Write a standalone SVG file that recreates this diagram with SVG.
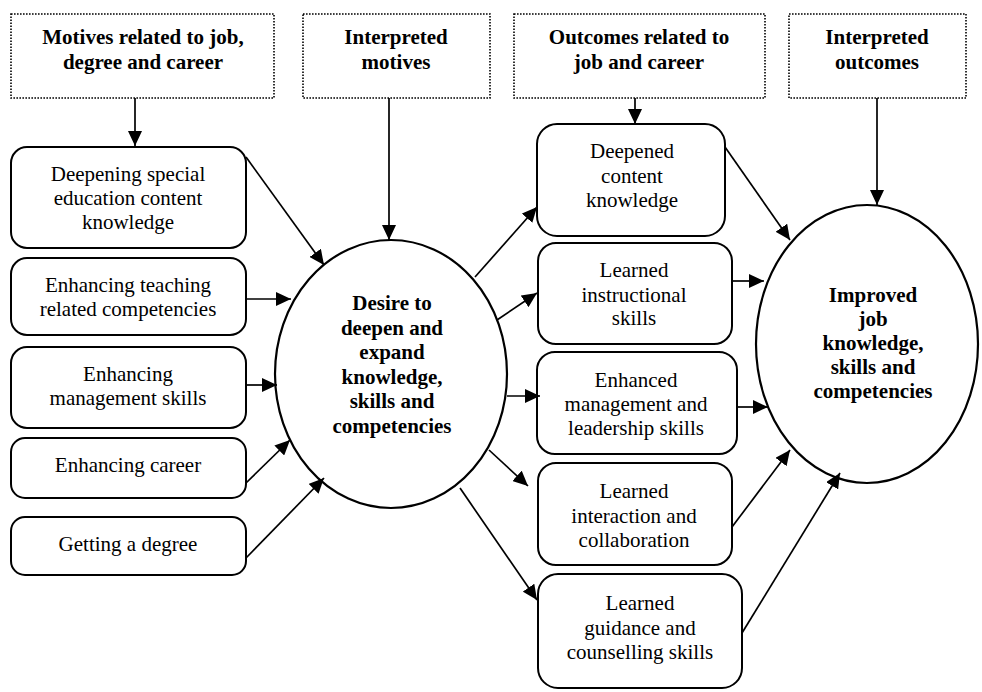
<svg xmlns="http://www.w3.org/2000/svg" width="982" height="692" viewBox="0 0 982 692">
  <defs>
    <marker id="arrow" markerUnits="userSpaceOnUse" markerWidth="15" markerHeight="14" refX="15" refY="7" orient="auto">
      <path d="M0,0 L15,7 L0,14 z" fill="#000"/>
    </marker>
  </defs>
  <style>
    .hdr { fill: #fff; stroke: #000; stroke-width: 1.6; stroke-dasharray: 1.6 1.4; }
    .box { fill: #fff; stroke: #000; stroke-width: 2; }
    .ell { fill: #fff; stroke: #000; stroke-width: 2.2; }
    text { font-family: 'Liberation Serif', 'DejaVu Serif', serif; font-size: 21px; fill: #000; text-anchor: middle; }
    .b { font-weight: bold; }
    .c { stroke: #000; stroke-width: 1.7; fill: none; marker-end: url(#arrow); }
  </style>
  <rect width="982" height="692" fill="#fff"/>

  <!-- header boxes -->
  <g id="hdr-motives">
    <rect class="hdr" x="11" y="14" width="263" height="84"/>
    <text class="b" x="143" y="44">Motives related to job,</text>
    <text class="b" x="143" y="69">degree and career</text>
  </g>
  <g id="hdr-int-motives">
    <rect class="hdr" x="303" y="14" width="187" height="84"/>
    <text class="b" x="396" y="44">Interpreted</text>
    <text class="b" x="396" y="69">motives</text>
  </g>
  <g id="hdr-outcomes">
    <rect class="hdr" x="514" y="14" width="251" height="84"/>
    <text class="b" x="639" y="44">Outcomes related to</text>
    <text class="b" x="639" y="69">job and career</text>
  </g>
  <g id="hdr-int-outcomes">
    <rect class="hdr" x="789" y="14" width="177" height="84"/>
    <text class="b" x="877" y="44">Interpreted</text>
    <text class="b" x="877" y="69">outcomes</text>
  </g>

  <!-- motive boxes -->
  <g id="m-content">
    <rect class="box" x="11" y="147" width="235" height="101" rx="16"/>
    <text x="128" y="181">Deepening special</text>
    <text x="128" y="205">education content</text>
    <text x="128" y="229">knowledge</text>
  </g>
  <g id="m-teaching">
    <rect class="box" x="11" y="258" width="235" height="77" rx="16"/>
    <text x="128" y="292">Enhancing teaching</text>
    <text x="128" y="316">related competencies</text>
  </g>
  <g id="m-management">
    <rect class="box" x="11" y="347" width="235" height="81" rx="16"/>
    <text x="128" y="381">Enhancing</text>
    <text x="128" y="405">management skills</text>
  </g>
  <g id="m-career">
    <rect class="box" x="11" y="438" width="235" height="60" rx="14"/>
    <text x="128" y="472">Enhancing career</text>
  </g>
  <g id="m-degree">
    <rect class="box" x="11" y="517" width="235" height="58" rx="14"/>
    <text x="128" y="551">Getting a degree</text>
  </g>

  <!-- central desire -->
  <g id="desire">
    <ellipse class="ell" cx="391" cy="374" rx="116" ry="134"/>
    <text class="b" x="392" y="310">Desire to</text>
    <text class="b" x="392" y="335">deepen and</text>
    <text class="b" x="392" y="359">expand</text>
    <text class="b" x="392" y="384">knowledge,</text>
    <text class="b" x="392" y="408">skills and</text>
    <text class="b" x="392" y="433">competencies</text>
  </g>

  <!-- outcome boxes -->
  <g id="o-content">
    <rect class="box" x="537" y="124" width="188" height="112" rx="20"/>
    <text x="632" y="158">Deepened</text>
    <text x="632" y="183">content</text>
    <text x="632" y="207">knowledge</text>
  </g>
  <g id="o-instruction">
    <rect class="box" x="538" y="243" width="194" height="101" rx="18"/>
    <text x="634" y="277">Learned</text>
    <text x="634" y="302">instructional</text>
    <text x="634" y="325">skills</text>
  </g>
  <g id="o-leadership">
    <rect class="box" x="537" y="352" width="200" height="102" rx="18"/>
    <text x="636" y="387">Enhanced</text>
    <text x="636" y="411">management and</text>
    <text x="636" y="435">leadership skills</text>
  </g>
  <g id="o-interaction">
    <rect class="box" x="538" y="463" width="194" height="102" rx="18"/>
    <text x="634" y="498">Learned</text>
    <text x="634" y="523">interaction and</text>
    <text x="634" y="547">collaboration</text>
  </g>
  <g id="o-guidance">
    <rect class="box" x="538" y="574" width="204" height="114" rx="20"/>
    <text x="640" y="610">Learned</text>
    <text x="640" y="635">guidance and</text>
    <text x="640" y="659">counselling skills</text>
  </g>

  <!-- result -->
  <g id="improved">
    <ellipse class="ell" cx="867" cy="344" rx="111" ry="139"/>
    <text class="b" x="873" y="302">Improved</text>
    <text class="b" x="873" y="326">job</text>
    <text class="b" x="873" y="350">knowledge,</text>
    <text class="b" x="873" y="374">skills and</text>
    <text class="b" x="873" y="398">competencies</text>
  </g>

  <!-- connectors -->
  <g id="connectors">
    <line class="c" x1="135" y1="98" x2="135" y2="146"/>
    <line class="c" x1="389" y1="98" x2="389" y2="240"/>
    <line class="c" x1="635" y1="98" x2="635" y2="124"/>
    <line class="c" x1="877" y1="98" x2="877" y2="205"/>

    <line class="c" x1="246" y1="157" x2="324" y2="265"/>
    <line class="c" x1="246" y1="299" x2="291" y2="299"/>
    <line class="c" x1="246" y1="385" x2="277" y2="385"/>
    <line class="c" x1="246" y1="483" x2="290" y2="440"/>
    <line class="c" x1="246" y1="558" x2="324" y2="478"/>

    <line class="c" x1="475" y1="277" x2="537" y2="207"/>
    <line class="c" x1="497" y1="320" x2="537" y2="293"/>
    <line class="c" x1="507" y1="396" x2="540" y2="396"/>
    <line class="c" x1="489" y1="450" x2="528" y2="486"/>
    <line class="c" x1="460" y1="488" x2="537" y2="600"/>

    <line class="c" x1="725" y1="147" x2="790" y2="240"/>
    <line class="c" x1="732" y1="281" x2="764" y2="281"/>
    <line class="c" x1="737" y1="407" x2="768" y2="407"/>
    <line class="c" x1="732" y1="527" x2="790" y2="450"/>
    <line class="c" x1="742" y1="633" x2="840" y2="473"/>
  </g>
</svg>
